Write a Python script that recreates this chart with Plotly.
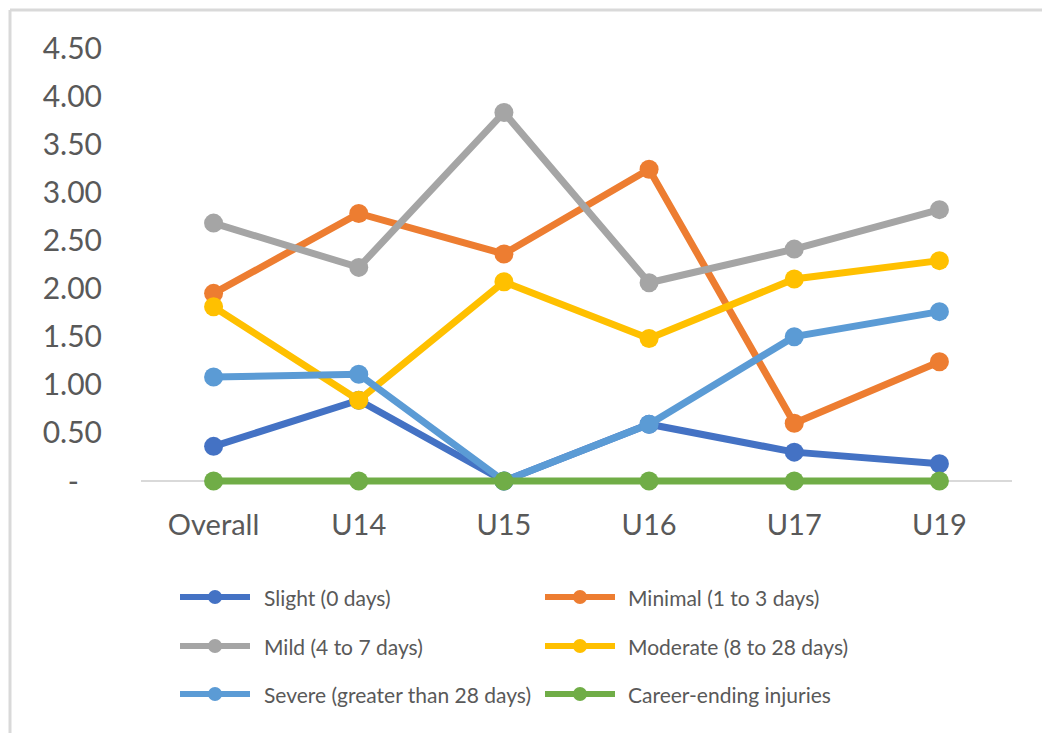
import plotly.graph_objects as go

categories = ["Overall", "U14", "U15", "U16", "U17", "U19"]
series_names = [
    "Slight (0 days)",
    "Minimal (1 to 3 days)",
    "Mild (4 to 7 days)",
    "Moderate (8 to 28 days)",
    "Severe (greater than 28 days)",
    "Career-ending injuries",
]
slight = [0.36, 0.84, 0.00, 0.59, 0.30, 0.18]
minimal = [1.95, 2.78, 2.36, 3.24, 0.60, 1.24]
mild = [2.68, 2.22, 3.83, 2.06, 2.41, 2.82]
moderate = [1.81, 0.84, 2.07, 1.48, 2.10, 2.29]
severe = [1.08, 1.11, 0.00, 0.59, 1.50, 1.76]
career = [0.00, 0.00, 0.00, 0.00, 0.00, 0.00]
y_tickvals = [0, 0.5, 1.0, 1.5, 2.0, 2.5, 3.0, 3.5, 4.0, 4.5]
y_ticktext = ["-\u00a0\u00a0\u00a0", "0.50", "1.00", "1.50", "2.00", "2.50", "3.00", "3.50", "4.00", "4.50"]

all_series = [slight, minimal, mild, moderate, severe, career]
colors = ["#4472C4", "#ED7D31", "#A5A5A5", "#FFC000", "#5B9BD5", "#70AD47"]

W, H = 1042, 733
L, R, T, Y0 = 141, 1012, 48, 481   # Y0: pixel of value 0
YMAX = 4.5
UNIT = (Y0 - T) / YMAX
B = Y0 + 6                           # plot bottom a bit below zero so the zero line isn't clipped
YMIN = -(B - Y0) / UNIT
PW, PH = R - L, B - T

def px(x):
    return (x - L) / PW

def py(y):
    return (B - y) / PH

fig = go.Figure()
for name, vals, col in zip(series_names, all_series, colors):
    fig.add_trace(go.Scatter(
        x=categories, y=vals, name=name, mode="lines+markers",
        line=dict(color=col, width=7),
        marker=dict(color=col, size=19),
        cliponaxis=False, showlegend=False,
    ))

shapes = []
annotations = []
# outer frame (left and top edges visible)
shapes.append(dict(type="line", xref="paper", yref="paper", x0=px(10), x1=px(1042), y0=py(10), y1=py(10),
                   line=dict(color="#D9D9D9", width=3)))
shapes.append(dict(type="line", xref="paper", yref="paper", x0=px(10), x1=px(10), y0=py(10), y1=py(733),
                   line=dict(color="#D9D9D9", width=3)))

# custom legend
col_x = [(180, 250, 262), (545, 615, 626)]
row_y = [597, 646, 694]
for i, (name, col) in enumerate(zip(series_names, colors)):
    c, r = i % 2, i // 2
    x0, x1, tx = col_x[c]
    yy = row_y[r]
    shapes.append(dict(type="line", xref="paper", yref="paper", x0=px(x0), x1=px(x1), y0=py(yy), y1=py(yy),
                       line=dict(color=col, width=6)))
    mx = (x0 + x1) / 2
    rr = 7
    shapes.append(dict(type="circle", xref="paper", yref="paper", x0=px(mx - rr), x1=px(mx + rr),
                       y0=py(yy + rr), y1=py(yy - rr), fillcolor=col, line=dict(color=col, width=0)))
    annotations.append(dict(xref="paper", yref="paper", x=px(tx), y=py(yy), text=name, showarrow=False,
                            xanchor="left", yanchor="middle", font=dict(size=21, color="#595959", family="Lato")))

fig.update_layout(
    width=W, height=H,
    margin=dict(l=L, r=W - R, t=T, b=H - B, pad=0),
    paper_bgcolor="white", plot_bgcolor="white",
    font=dict(family="Lato", color="#595959"),
    shapes=shapes, annotations=annotations,
    showlegend=False,
    xaxis=dict(type="category", range=[-0.5, 5.5], showgrid=False, zeroline=False,
               showline=False, ticks="",
               tickfont=dict(size=29, color="#595959", family="Lato"), ticklabelstandoff=18),
    yaxis=dict(range=[YMIN, YMAX], showgrid=False, zeroline=True, zerolinecolor="#D9D9D9",
               zerolinewidth=2, showline=False, ticks="",
               tickvals=y_tickvals, ticktext=y_ticktext,
               tickfont=dict(size=30, color="#595959", family="Lato"), ticklabelstandoff=38),
)

fig.write_html("out.html")
